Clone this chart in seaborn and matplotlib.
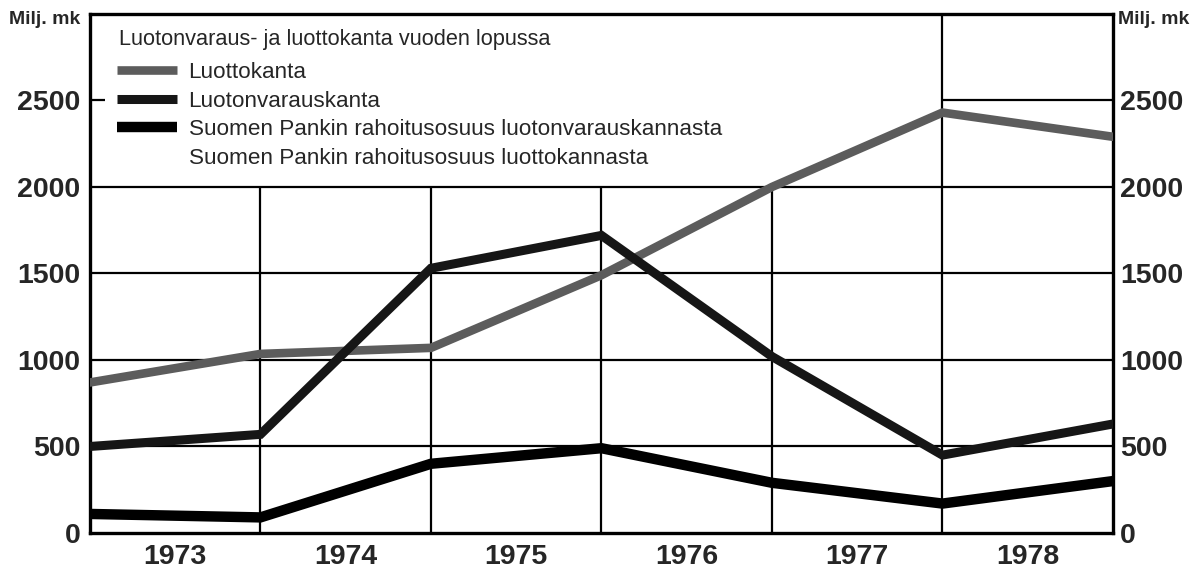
import matplotlib
matplotlib.use('Agg')
import matplotlib.pyplot as plt
from matplotlib.lines import Line2D
import seaborn as sns
import pandas as pd

# ── Data (Milj. mk, year end) ─────────────────────────────────────────────────
positions = [0, 1, 2, 3, 4, 5, 6]
years = ['1973', '1974', '1975', '1976', '1977', '1978']
luottokanta = [870, 1035, 1070, 1490, 2000, 2430, 2290]
luotonvarauskanta = [500, 570, 1530, 1720, 1020, 450, 630]
sp_luotonvaraus = [110, 90, 400, 490, 290, 170, 300]

series = [
    ('Luottokanta', luottokanta, '#5c5c5c', 6.2),
    ('Luotonvarauskanta', luotonvarauskanta, '#161616', 6.5),
    ('Suomen Pankin rahoitusosuus luotonvarauskannasta', sp_luotonvaraus, '#000000', 7.5),
]
extra_label = 'Suomen Pankin rahoitusosuus luottokannasta'
legend_title = 'Luotonvaraus- ja luottokanta vuoden lopussa'

# ── Style ─────────────────────────────────────────────────────────────────────
sns.set_theme(style='white')
plt.rcParams['font.family'] = ['Liberation Sans', 'DejaVu Sans']

fig = plt.figure(figsize=(12.01, 5.77), dpi=100)
ax = fig.add_axes([0.0749, 0.0763, 0.8518, 0.8995])

# grid, with the upper left corner left free for the legend
for v in [500, 1000, 1500, 2000]:
    ax.axhline(v, color='black', lw=1.6, zorder=1)
ax.hlines(2500, 5, 6, color='black', lw=1.6, zorder=1)
ax.hlines(2500, 0, 0.09, color='black', lw=1.6, zorder=1)
ax.vlines([1, 2, 3, 4], 0, 2000, color='black', lw=1.6, zorder=1)
ax.vlines(5, 0, 3000, color='black', lw=1.6, zorder=1)

handles = []
for name, vals, col, lw in series:
    df = pd.DataFrame({'x': positions, 'y': vals})
    sns.lineplot(data=df, x='x', y='y', ax=ax, color=col, lw=lw,
                 legend=False, zorder=3, solid_joinstyle='miter')
    handles.append(Line2D([], [], color=col, lw=lw, solid_capstyle='butt'))
handles.append(Line2D([], [], color='none'))
labels = [s[0] for s in series] + [extra_label]

ax.set_xlim(0, 6)
ax.set_ylim(0, 3000)
ax.set_xlabel('')
ax.set_ylabel('')
ax.set_xticks([p + 0.5 for p in positions[:-1]])
ax.set_xticklabels(years)
ax.set_yticks([0, 500, 1000, 1500, 2000, 2500])
ax.tick_params(axis='both', length=0, labelsize=20.5)
ax.tick_params(axis='y', pad=7)
ax.tick_params(axis='x', pad=8)
for lab in ax.get_xticklabels() + ax.get_yticklabels():
    lab.set_fontweight('bold')
for sp in ax.spines.values():
    sp.set_visible(True)
    sp.set_color('black')
    sp.set_linewidth(2.4)

ax2 = ax.twinx()
ax2.set_ylim(0, 3000)
ax2.set_yticks([0, 500, 1000, 1500, 2000, 2500])
ax2.tick_params(axis='y', length=0, labelsize=20.5, pad=5)
for lab in ax2.get_yticklabels():
    lab.set_fontweight('bold')
for sp in ax2.spines.values():
    sp.set_visible(False)

# legend with its heading above it
ax.text(0.028, 0.951, legend_title, transform=ax.transAxes, ha='left', va='center',
        fontsize=15.7, zorder=5)
leg = ax.legend(handles, labels, loc='upper left', bbox_to_anchor=(0.026, 0.907),
                frameon=False, fontsize=16.2, handlelength=2.7, handletextpad=0.5,
                labelspacing=0.33, borderpad=0, borderaxespad=0)
leg.set_zorder(5)

fig.text(0.067, 0.966, 'Milj. mk', ha='right', va='center', fontsize=14, fontweight='bold')
fig.text(0.931, 0.966, 'Milj. mk', ha='left', va='center', fontsize=14, fontweight='bold')

fig.savefig('out.png', dpi=100)
